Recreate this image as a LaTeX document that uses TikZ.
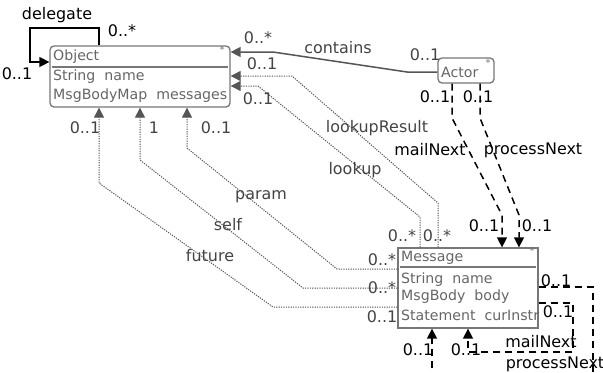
\documentclass[tikz,border=0pt]{standalone}
\usepackage{fontspec}
\setmainfont{DejaVu Sans}
\usetikzlibrary{arrows.meta}
\definecolor{boxgray}{HTML}{777777}
\definecolor{txtgray}{HTML}{666666}
\definecolor{lngray}{HTML}{555555}
\begin{document}
\begin{tikzpicture}[x=1bp,y=-1bp,
  box/.style={draw=boxgray, line width=1.3bp, inner sep=0pt},
  boxtxt/.style={text=txtgray, font=\fontsize{14.2}{14}\selectfont, anchor=west, inner sep=0pt},
  star/.style={text=boxgray, font=\fontsize{10}{10}\selectfont, inner sep=0pt},
  lbl/.style={font=\fontsize{16}{16}\selectfont, inner sep=0pt, text=black},
  glbl/.style={font=\fontsize{16}{16}\selectfont, inner sep=0pt, text=lngray!80!black},
  tip/.style={-{Triangle[length=10bp,width=10bp]}},
  solidblk/.style={tip, draw=black, line width=1.5bp},
  solidgry/.style={tip, draw=lngray, line width=1.5bp},
  dotgry/.style={tip, draw=lngray, line width=1bp, dash pattern=on 1.2bp off 1.2bp},
  dashblk/.style={tip, draw=black, line width=1.5bp, dash pattern=on 7bp off 5bp},
]
\clip (0,0) rectangle (603,372);
\fill[white] (0,0) rectangle (603,372);

% boxes
\node[box, rounded corners=4bp, minimum width=180bp, minimum height=61bp] (obj) at (140,76.5) {};
\node[boxtxt] (objt) at (53,57) {Object};
\draw[boxgray, line width=1.3bp] (52,67) -- (228,67);
\node[boxtxt] (objr1) at (53,77) {String\ \ name};
\node[boxtxt] (objr2) at (53,96) {MsgBodyMap\ \ messages};
\node[star] (objs) at (222,50) {*};

\node[box, rounded corners=4bp, minimum width=56bp, minimum height=25bp] (actor) at (466,70.5) {};
\node[boxtxt] (actt) at (441,72) {Actor};
\node[star] (acts) at (488,63) {*};

\node[box, minimum width=140bp, minimum height=80bp] (msg) at (468,288) {};
\node[boxtxt] (msgt) at (401,258) {Message};
\draw[boxgray, line width=1.3bp] (400,267) -- (536,267);
\node[boxtxt] (msgr1) at (401,280) {String\ \ name};
\node[boxtxt] (msgr2) at (401,297) {MsgBody\ \ body};
\node[boxtxt] (msgr3) at (401,315) {Statement\ \ curInstr};
\node[star] (msgs) at (532,251) {*};

% waypoints
\coordinate (d1) at (99,28);
\coordinate (d2) at (30,28);
\coordinate (d3) at (30,62);
\coordinate (c1) at (407,72);
\coordinate (c2) at (273,52);
\coordinate (lr1) at (438,203);
\coordinate (lr2) at (292,76);
\coordinate (lk1) at (420,217);
\coordinate (lk2) at (258,86);
\coordinate (p1) at (337,269);
\coordinate (p2) at (187,148);
\coordinate (s1) at (303,288);
\coordinate (s2) at (140,160);
\coordinate (f1) at (273,307);
\coordinate (f2) at (99,183);
\coordinate (m1) at (452,118);
\coordinate (m2) at (502,215);
\coordinate (n1) at (480,118);
\coordinate (n2) at (519,215);
\coordinate (ml1) at (573,303);
\coordinate (ml2) at (573,352);
\coordinate (ml3) at (468,352);
\coordinate (pl1) at (593,287);
\coordinate (pl2) at (593,400);
\coordinate (pl3) at (432,400);

% connectors
\draw[solidblk] (obj.north -| d1) -- (d1) -- (d2) -- (d3) -- (obj.west |- d3);
\draw[solidgry] (actor.west |- c1) -- (c1) -- (c2) -- (obj.east |- c2);
\draw[dotgry] (msg.north -| lr1) -- (lr1) -- (lr2) -- (obj.east |- lr2);
\draw[dotgry] (msg.north -| lk1) -- (lk1) -- (lk2) -- (obj.east |- lk2);
\draw[dotgry] (msg.west |- p1) -- (p1) -- (p2) -- (obj.south -| p2);
\draw[dotgry] (msg.west |- s1) -- (s1) -- (s2) -- (obj.south -| s2);
\draw[dotgry] (msg.west |- f1) -- (f1) -- (f2) -- (obj.south -| f2);
\draw[dashblk] (actor.south -| m1) -- (m1) -- (m2) -- (msg.north -| m2);
\draw[dashblk] (actor.south -| n1) -- (n1) -- (n2) -- (msg.north -| n2);
\draw[dashblk] (msg.east |- ml1) -- (ml1) -- (ml2) -- (ml3) -- (msg.south -| ml3);
\draw[dashblk] (msg.east |- pl1) -- (pl1) -- (pl2) -- (pl3) -- (msg.south -| pl3);

% labels
\node[lbl] (l1) at (57,15) {delegate};
\node[lbl] (l2) at (122,31) {0..*};
\node[lbl] (l3) at (17,74) {0..1};
\node[glbl] (l4) at (258,38) {0..*};
\node[glbl] (l5) at (338,48) {contains};
\node[glbl] (l6) at (425,55) {0..1};
\node[glbl] (l7) at (262,64) {0..1};
\node[glbl] (l8) at (258,99) {0..1};
\node[glbl] (l9) at (377,128) {lookupResult};
\node[glbl] (l10) at (355,170) {lookup};
\node[glbl] (l11) at (85,128) {0..1};
\node[glbl] (l12) at (154,128) {1};
\node[glbl] (l13) at (216,128) {0..1};
\node[glbl] (l14) at (261,197) {param};
\node[glbl] (l15) at (228,225) {self};
\node[glbl] (l16) at (210,256) {future};
\node[glbl] (l17) at (402,236) {0..*};
\node[glbl] (l18) at (437,236) {0..*};
\node[glbl] (l19) at (382,260) {0..*};
\node[glbl] (l20) at (382,288) {0..*};
\node[glbl] (l21) at (382,317) {0..1};
\node[lbl] (l22) at (435,97) {0..1};
\node[lbl] (l23) at (478,97) {0..1};
\node[lbl] (l24) at (430,150) {mailNext};
\node[lbl] (l25) at (533,150) {processNext};
\node[lbl] (l26) at (484,226) {0..1};
\node[lbl] (l27) at (537,226) {0..1};
\node[lbl] (l28) at (556,281) {0..1};
\node[lbl] (l29) at (558,312) {0..1};
\node[lbl] (l30) at (418,350) {0..1};
\node[lbl] (l31) at (466,350) {0..1};
\node[lbl] (l32) at (541,342) {mailNext};
\node[lbl] (l33) at (555,364) {processNext};
\end{tikzpicture}
\end{document}
